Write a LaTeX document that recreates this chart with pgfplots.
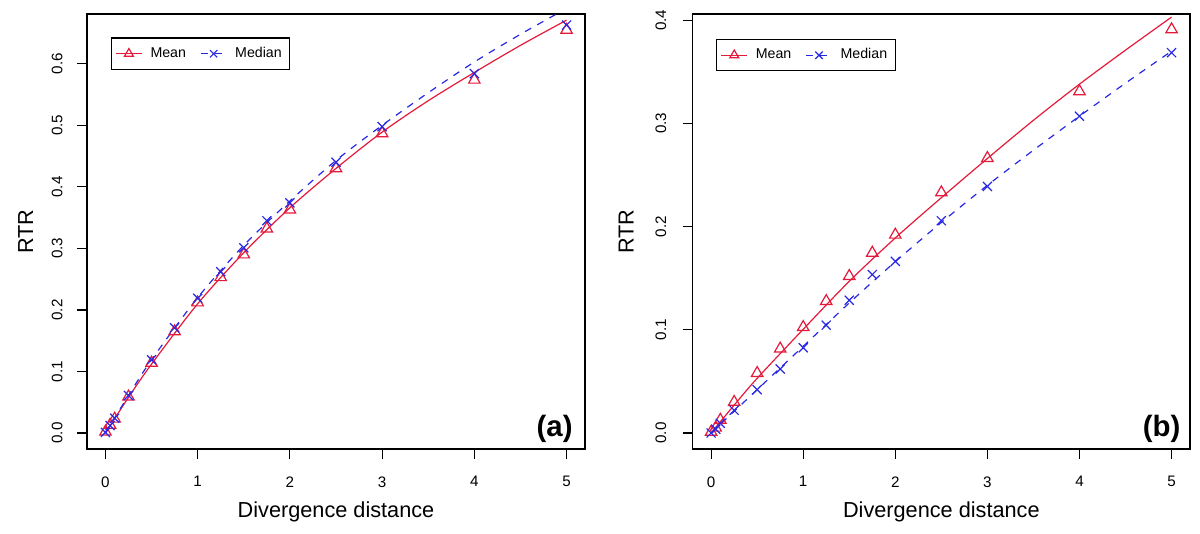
\documentclass[border=0pt]{standalone}
\usepackage{pgfplots}
\pgfplotsset{compat=1.18}
\usepackage{fontspec}
\setmainfont{Liberation Sans}
\definecolor{mred}{RGB}{228,26,58}
\definecolor{mblue}{RGB}{40,40,228}

\pgfplotsset{
 rstyle/.style={
  scale only axis, width=249pt, height=217.5pt,
  xmin=-0.2, xmax=5.2,
  xtick={0,1,2,3,4,5},
  axis line style={line width=0.6pt},
  every tick/.style={line width=0.6pt, black},
  tick align=outside, major tick length=5pt,
  xtick pos=bottom, ytick pos=left,
  scaled y ticks=false,
  ticklabel style={font=\fontsize{7.6}{9}\selectfont},
  /pgf/number format/assume math mode=true,
  xticklabel style={anchor=north, inner sep=0pt, yshift=-8.5pt},
  yticklabel style={/pgf/number format/fixed, /pgf/number format/fixed zerofill, /pgf/number format/precision=1},
  label style={font=\fontsize{10.85}{12}\selectfont},
  xlabel={Divergence distance}, ylabel={RTR},
  xlabel style={at={(axis description cs:0.5,-0.158)}, anchor=base},
  legend columns=2,
  legend cell align=left,
  legend style={draw=black, line width=0.6pt, inner xsep=2pt, inner ysep=2.5pt,
     font=\fontsize{7.1}{8}\selectfont,
     /tikz/every odd column/.append style={column sep=2pt},
     /tikz/every even column/.append style={column sep=5pt}},
  legend image code/.code={\draw[mark repeat=2,mark phase=2] plot coordinates {(0pt,0pt)(6.5pt,0pt)(13pt,0pt)};},
 },
 meanline/.style={mred, line width=0.6pt, smooth, no marks, forget plot},
 medline/.style={mblue, line width=0.6pt, smooth, no marks, dash pattern=on 3.5pt off 3.5pt, forget plot},
 meanpts/.style={mred, only marks, mark=triangle, mark size=3.3pt, mark options={line width=0.6pt}, forget plot},
 medpts/.style={mblue, only marks, mark=x, mark size=3.2pt, mark options={line width=0.6pt}, forget plot},
}

\begin{document}
\begin{tikzpicture}
\path[use as bounding box] (0,0) rectangle (600pt,267pt);

% ---------------- panel (a)
\begin{axis}[rstyle,
  at={(43.5pt,42.5pt)}, anchor=south west,
  ymin=-0.026, ymax=0.681,
  ytick={0,0.1,0.2,0.3,0.4,0.5,0.6},
  ylabel style={at={(axis description cs:-0.108,0.5)}, anchor=base},
  yticklabel style={xshift=-7pt, rotate=90, anchor=south, inner sep=0pt},
  legend style={at={(rel axis cs:0.0476,0.946)}, anchor=north west},
]
\addplot[meanline] coordinates {(0,0) (0.25,0.058) (0.5,0.112) (1,0.210) (1.5,0.293) (2,0.366) (2.5,0.430) (3,0.489) (3.5,0.540) (4,0.586) (4.5,0.630) (5,0.671)};
\addplot[medline] coordinates {(0,0) (0.25,0.061) (0.5,0.119) (1,0.220) (1.5,0.305) (2,0.377) (2.5,0.443) (3,0.500) (3.5,0.553) (4,0.603) (4.5,0.648) (5,0.690)};
\addplot[meanpts] coordinates {(0,0.002) (0.05,0.013) (0.1,0.023) (0.25,0.059) (0.5,0.114) (0.75,0.165) (1,0.212) (1.25,0.253) (1.5,0.290) (1.75,0.332) (2,0.363) (2.5,0.430) (3,0.487) (4,0.574) (5,0.655)};
\addplot[medpts] coordinates {(0,0.001) (0.05,0.012) (0.1,0.024) (0.25,0.061) (0.5,0.119) (0.75,0.171) (1,0.219) (1.25,0.262) (1.5,0.301) (1.75,0.345) (2,0.374) (2.5,0.440) (3,0.498) (4,0.584) (5,0.663)};
\addlegendimage{mred, line width=0.6pt, mark=triangle, mark size=2.6pt}
\addlegendentry{Mean}
\addlegendimage{mblue, line width=0.6pt, dash pattern=on 3.5pt off 3.5pt, mark=x, mark size=2.6pt, mark options={solid}}
\addlegendentry{Median}
\node[font=\bfseries\fontsize{14.7}{16}\selectfont] at (rel axis cs:0.939,0.046) {(a)};
\end{axis}

% ---------------- panel (b)
\begin{axis}[rstyle,
  at={(346.35pt,42.5pt)}, anchor=south west, width=248.65pt,
  ymin=-0.0155, ymax=0.406,
  ytick={0,0.1,0.2,0.3,0.4},
  ylabel style={at={(axis description cs:-0.119,0.5)}, anchor=base},
  yticklabel style={xshift=-8pt, rotate=90, anchor=south, inner sep=0pt},
  legend style={at={(rel axis cs:0.047,0.9425)}, anchor=north west},
]
\addplot[meanline] coordinates {(0,0) (0.25,0.027) (0.5,0.053) (1,0.1005) (1.5,0.147) (2,0.189) (2.5,0.228) (3,0.266) (3.5,0.303) (4,0.338) (4.5,0.371) (5,0.403)};
\addplot[medline] coordinates {(0,0) (0.25,0.021) (0.5,0.042) (1,0.084) (1.5,0.126) (2,0.166) (2.5,0.204) (3,0.240) (3.5,0.274) (4,0.307) (4.5,0.339) (5,0.370)};
\addplot[meanpts] coordinates {(0,0.001) (0.05,0.005) (0.1,0.0126) (0.25,0.030) (0.5,0.058) (0.75,0.0816) (1,0.1025) (1.25,0.1277) (1.5,0.152) (1.75,0.1745) (2,0.192) (2.5,0.233) (3,0.2663) (4,0.331) (5,0.391)};
\addplot[medpts] coordinates {(0,0.000) (0.05,0.0036) (0.1,0.0094) (0.25,0.022) (0.5,0.042) (0.75,0.062) (1,0.0826) (1.25,0.1045) (1.5,0.1286) (1.75,0.1535) (2,0.1663) (2.5,0.2057) (3,0.2389) (4,0.307) (5,0.3685)};
\addlegendimage{mred, line width=0.6pt, mark=triangle, mark size=2.6pt}
\addlegendentry{Mean}
\addlegendimage{mblue, line width=0.6pt, dash pattern=on 3.5pt off 3.5pt, mark=x, mark size=2.6pt, mark options={solid}}
\addlegendentry{Median}
\node[font=\bfseries\fontsize{14.7}{16}\selectfont] at (rel axis cs:0.943,0.046) {(b)};
\end{axis}
\end{tikzpicture}
\end{document}
